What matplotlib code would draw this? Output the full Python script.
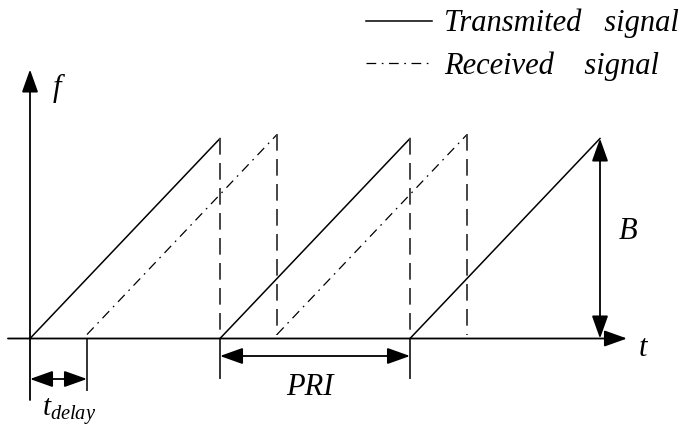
import matplotlib
matplotlib.use('Agg')
import matplotlib.pyplot as plt

plt.rcParams['font.family'] = ['Liberation Serif', 'DejaVu Serif']
plt.rcParams['mathtext.fontset'] = 'custom'
plt.rcParams['mathtext.it'] = 'Liberation Serif:italic'
plt.rcParams['mathtext.rm'] = 'Liberation Serif'
plt.rcParams['lines.scale_dashes'] = False

# chart values (time in PRI units, frequency in units of B)
pri = 1.0
t_delay = 0.3
bandwidth = 1.0
rx_offset = 0.02
tx_starts = [0.0, 1.0, 2.0]
rx_starts = [0.3, 1.3]
legend_labels = ['Transmited   signal', 'Received    signal']

# pixel -> data mapping helpers for the canvas
W, H = 691, 428
x0_px, y0_px = 30, 338.5
sx, sy = 190.0, 200.0

fig = plt.figure(figsize=(W / 100, H / 100), dpi=100)
ax = fig.add_axes([0, 0, 1, 1])
ax.set_xlim(-x0_px / sx, (W - x0_px) / sx)
ax.set_ylim(-(H - y0_px) / sy, y0_px / sy)
ax.axis('off')

# transmitted ramps
tx_handle = None
for s in tx_starts:
    tx_handle, = ax.plot([s, s + pri], [0, bandwidth], color='black', lw=1.1)
    if s + pri < tx_starts[-1] + pri:
        ax.plot([s + pri, s + pri], [bandwidth, 0], color='#444444', lw=1.4,
                dashes=(12, 6))

# received ramps
rx_handle = None
for s in rx_starts:
    rx_handle, = ax.plot([s, s + pri], [rx_offset, bandwidth + rx_offset],
                         color='black', lw=0.9, dashes=(7, 4, 1.2, 4))
    ax.plot([s + pri, s + pri], [bandwidth + rx_offset, rx_offset],
            color='#444444', lw=1.4, dashes=(12, 6))

# axes with arrows
arrow_kw = dict(arrowstyle='-|>,head_length=0.7,head_width=0.25', color='black',
                lw=1.3, shrinkA=0, shrinkB=0, mutation_scale=20)
ax.annotate('', xy=(3.142, 0), xytext=(-0.116, 0), arrowprops=arrow_kw)
ax.annotate('', xy=(0, 1.345), xytext=(0, -0.3075), arrowprops=arrow_kw)

dbl_kw = dict(arrowstyle='<|-|>,head_length=0.7,head_width=0.25', color='black',
              lw=1.3, shrinkA=0, shrinkB=0, mutation_scale=20)

# B arrow
b_x = tx_starts[-1] + pri
ax.annotate('', xy=(b_x, bandwidth), xytext=(b_x, 0), arrowprops=dbl_kw)

# PRI marker
pri_y = -0.0875
for s in [tx_starts[1], tx_starts[2]]:
    ax.plot([s, s], [0, -0.1975], color='#333333', lw=1.4)
ax.annotate('', xy=(tx_starts[1], pri_y), xytext=(tx_starts[2], pri_y),
            arrowprops=dbl_kw)

# t_delay marker
td_y = -0.2025
ax.plot([t_delay, t_delay], [0, -0.2575], color='#333333', lw=1.4)
ax.annotate('', xy=(0, td_y), xytext=(t_delay, td_y), arrowprops=dbl_kw)

# labels
tkw = dict(fontsize=22, style='italic', ha='center', va='center')
ax.text(0.142, 1.25, 'f', **tkw)
ax.text(3.15, 0.535, 'B', **tkw)
ax.text(3.225, -0.05, 't', **tkw)
ax.text(1.474, -0.245, 'PRI', **tkw)
ax.text(0.205, -0.365, r'$t_{delay}$', fontsize=21, ha='center', va='center')

leg = ax.legend([tx_handle, rx_handle], legend_labels, loc='upper left',
                bbox_to_anchor=(366 / W, 1 - 9 / H), frameon=False,
                prop=dict(family='Liberation Serif', style='italic', size=22),
                handlelength=2.16, handletextpad=0.4, labelspacing=0.42,
                borderpad=0, borderaxespad=0)

fig.savefig('out.png', dpi=100)
